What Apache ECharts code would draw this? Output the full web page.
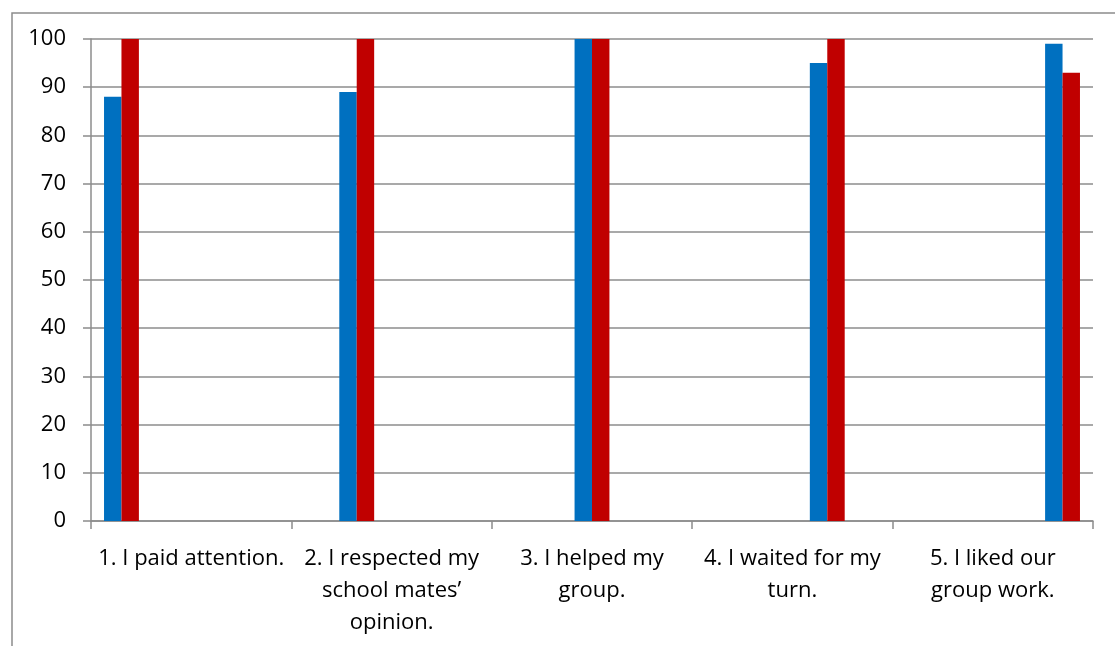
<!DOCTYPE html>
<html>
<head>
<meta charset="utf-8">
<script src="https://cdn.jsdelivr.net/npm/echarts@6/dist/echarts.min.js"></script>
<style>
html,body{margin:0;padding:0;background:#fff;}
#chart{width:1115px;height:646px;}
</style>
</head>
<body>
<div id="chart"></div>
<script>
const categories = [
  '1. I paid attention.',
  '2. I respected my\nschool mates\u2019\nopinion.',
  '3. I helped my\ngroup.',
  '4. I waited for my\nturn.',
  '5. I liked our\ngroup work.'
];
const blueValues = [88, 89, 100, 95, 99];
const redValues = [100, 100, 100, 100, 93];
const yTicks = { min: 0, max: 100, interval: 10 };

const BLUE = '#0070C0';
const RED = '#C00000';
const GRAY = '#8c8c8c';
const FONT = 'Open Sans';

const series = [];
categories.forEach((c, i) => {
  series.push({
    type: 'bar', name: 'blue' + i, itemStyle: { color: BLUE },
    data: categories.map((_, j) => j === i ? blueValues[i] : null),
    barGap: '0%', barCategoryGap: '13%', animation: false
  });
  series.push({
    type: 'bar', name: 'red' + i, itemStyle: { color: RED },
    data: categories.map((_, j) => j === i ? redValues[i] : null),
    barGap: '0%', barCategoryGap: '13%', animation: false
  });
});

const chart = echarts.init(document.getElementById('chart'));
chart.setOption({
  animation: false,
  backgroundColor: '#fff',
  grid: { left: 91, right: 22, top: 39, bottom: 125, containLabel: false },
  graphic: [{
    type: 'rect', left: 9.5, top: 10.5, silent: true, z: -10,
    shape: { x: 0, y: 0, width: 1300, height: 900 },
    style: { fill: 'none', stroke: GRAY, lineWidth: 1.5 }
  }],
  xAxis: {
    type: 'category', data: categories,
    axisLine: { show: true, lineStyle: { color: GRAY, width: 1.5 } },
    axisTick: { show: true, length: 8, inside: false, alignWithLabel: false, lineStyle: { color: GRAY, width: 1.5 } },
    axisLabel: { interval: 0, color: '#000', fontFamily: FONT, fontSize: 22, lineHeight: 32, margin: 22 },
    splitLine: { show: false }
  },
  yAxis: {
    type: 'value', min: yTicks.min, max: yTicks.max, interval: yTicks.interval,
    axisLine: { show: true, lineStyle: { color: GRAY, width: 1.5 } },
    axisTick: { show: true, length: 8, lineStyle: { color: GRAY, width: 1.5 } },
    axisLabel: { color: '#000', fontFamily: FONT, fontSize: 22, margin: 25 },
    splitLine: { show: true, lineStyle: { color: GRAY, width: 1.5 } }
  },
  series: series
});
</script>
</body>
</html>
